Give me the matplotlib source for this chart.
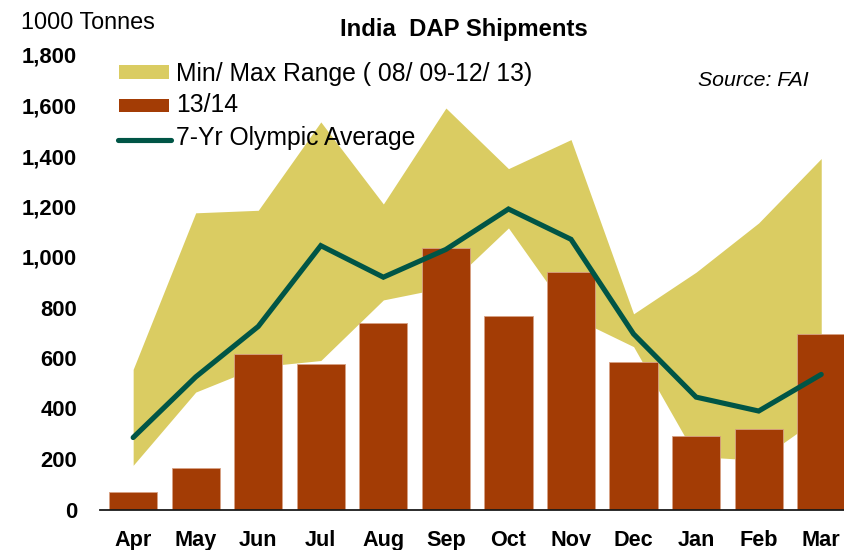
import matplotlib
matplotlib.use("Agg")
import matplotlib.pyplot as plt
from matplotlib.patches import Rectangle
from matplotlib.lines import Line2D
import numpy as np

months = ["Apr", "May", "Jun", "Jul", "Aug", "Sep", "Oct", "Nov", "Dec", "Jan", "Feb", "Mar"]
range_max = [555, 1175, 1185, 1535, 1210, 1590, 1350, 1465, 775, 940, 1135, 1390]
range_min = [175, 465, 565, 590, 830, 880, 1115, 765, 645, 210, 195, 370]
shipments_1314 = [70, 165, 615, 575, 740, 1035, 765, 940, 585, 290, 320, 695]
olympic_avg = [285, 525, 725, 1045, 920, 1030, 1190, 1070, 695, 445, 390, 535]
yticks = [0, 200, 400, 600, 800, 1000, 1200, 1400, 1600, 1800]

C_FILL = "#DACC62"
C_BAR = "#A33C05"
C_LINE = "#005546"

plt.rcParams["font.family"] = ["Liberation Sans", "DejaVu Sans"]

W, H = 845, 550
fig = plt.figure(figsize=(W / 100, H / 100), dpi=100)

def fx(px):
    return px / W

def fy(py):
    return (H - py) / H

ax_left, ax_right = 100, 845
ax_top, ax_bot = 55, 509.5
ax = fig.add_axes([fx(ax_left), fy(ax_bot), (ax_right - ax_left) / W, (ax_bot - ax_top) / H])

x = np.arange(len(months))
ax.fill_between(x, range_min, range_max, color=C_FILL, linewidth=0, zorder=1)
ax.bar(x, shipments_1314, width=0.77, color=C_BAR, edgecolor="#D8A184", linewidth=0.6, zorder=2)
ax.plot(x, olympic_avg, color=C_LINE, linewidth=3.7, solid_capstyle="round",
        solid_joinstyle="miter", zorder=3)

ax.set_xlim(-0.53, 11.38)
ax.set_ylim(0, 1800)
ax.set_yticks(yticks)
ax.set_yticklabels([f"{v:,}" for v in yticks], fontsize=15.8, fontweight="bold")
ax.set_xticks(x)
ax.set_xticklabels(months, fontsize=15.6, fontweight="bold")
ax.tick_params(axis="y", length=0, pad=16.5)
ax.tick_params(axis="x", length=0, pad=14.5)
for s in ["top", "right", "left"]:
    ax.spines[s].set_visible(False)
ax.spines["bottom"].set_color("#1a1a1a")
ax.spines["bottom"].set_linewidth(1.3)
ax.spines["bottom"].set_zorder(4)
ax.patch.set_alpha(0)

# Titles / annotations
fig.text(fx(463.5), fy(36), "India  DAP Shipments", ha="center", va="baseline",
         fontsize=17.2, fontweight="bold")
fig.text(fx(21), fy(29), "1000 Tonnes", ha="left", va="baseline", fontsize=16.8)
fig.text(fx(698), fy(86.5), "Source: FAI", ha="left", va="baseline", fontsize=15.3,
         style="italic")

# Legend (manual)
fig.patches.append(Rectangle((fx(119), fy(79)), 50 / W, 14 / H, transform=fig.transFigure,
                             facecolor=C_FILL, edgecolor="none"))
fig.patches.append(Rectangle((fx(119), fy(112)), 50 / W, 13 / H, transform=fig.transFigure,
                             facecolor=C_BAR, edgecolor="none"))
fig.lines.append(Line2D([fx(118), fx(171)], [fy(140), fy(140)], transform=fig.transFigure,
                        color=C_LINE, linewidth=3.7, solid_capstyle="round"))
leg_fs = 17.8
fig.text(fx(176), fy(81), "Min/ Max Range ( 08/ 09-12/ 13)", ha="left", va="baseline", fontsize=leg_fs)
fig.text(fx(176), fy(112.5), "13/14", ha="left", va="baseline", fontsize=leg_fs)
fig.text(fx(176), fy(144.5), "7-Yr Olympic Average", ha="left", va="baseline", fontsize=leg_fs)

fig.savefig("out.png", dpi=100)
